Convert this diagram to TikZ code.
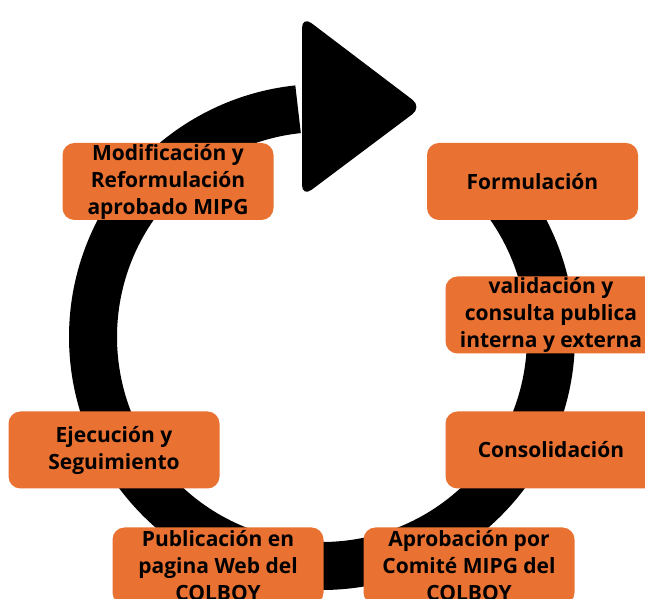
\documentclass[tikz,border=0pt]{standalone}
\usepackage{fontspec}
\setmainfont{Open Sans}
\definecolor{boxorange}{HTML}{E97132}
\tikzset{
  stepbox/.style={rectangle, rounded corners=12pt, fill=boxorange, draw=none,
    minimum width=211pt, minimum height=77pt, inner sep=0pt, align=center,
    text=black, font=\fontsize{21}{27}\selectfont\bfseries},
  ring/.style={line width=48pt, black},
  head/.style={fill=black, rounded corners=12pt}
}
\begin{document}
\begin{tikzpicture}[x=1pt,y=1pt]
\path[use as bounding box, clip] (0,0) rectangle (645,599);
\fill[white] (0,0) rectangle (645,599);
\coordinate (c) at (322,262);
% ring
\draw[ring] (c) ++(45:229) arc[start angle=45, end angle=-264, radius=229];
% arrow head
\coordinate (hl) at (302,492);
\coordinate (ht) at (302,583);
\coordinate (hr) at (422,492);
\coordinate (hb) at (302,402);
\path[head] (hl) -- (ht) -- (hr) -- (hb) -- cycle;
% boxes
\node[stepbox] (modificacion) at (168,417.5) {Modificación y\\Reformulación\\aprobado MIPG};
\node[stepbox] (formulacion) at (532.5,417.5) {Formulación};
\node[stepbox] (validacion) at (551,284) {validación y\\consulta publica\\interna y externa};
\node[stepbox] (ejecucion) at (114,149) {Ejecución y\\Seguimiento};
\node[stepbox] (consolidacion) at (551,149) {Consolidación};
\node[stepbox] (publicacion) at (218,33) {Publicación en\\pagina Web del\\COLBOY};
\node[stepbox] (aprobacion) at (469,33) {Aprobación por\\Comité MIPG del\\COLBOY};
\end{tikzpicture}
\end{document}
